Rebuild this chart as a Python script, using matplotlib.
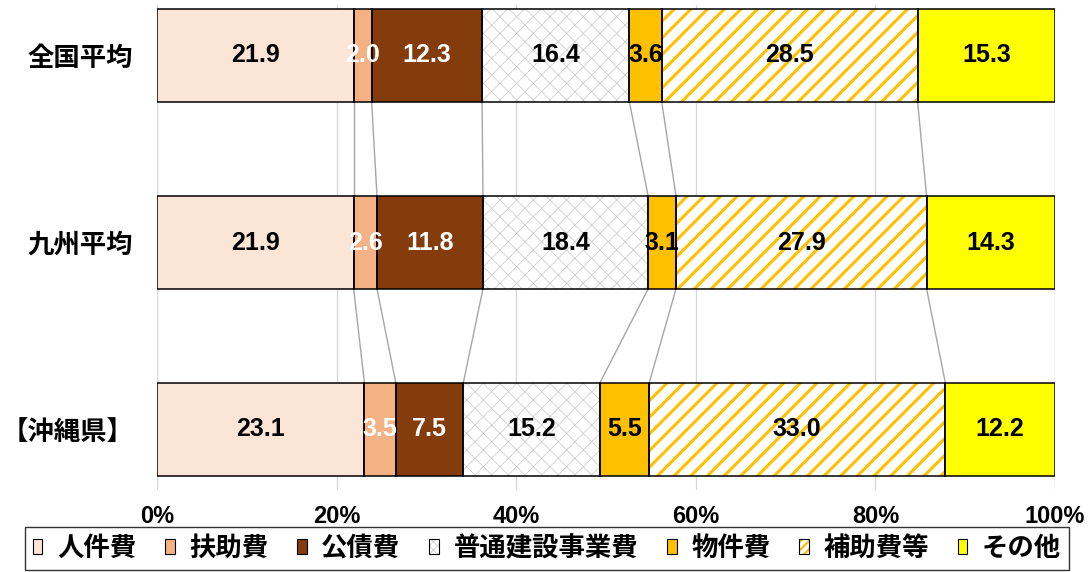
import matplotlib
matplotlib.use("Agg")
import matplotlib.pyplot as plt
from matplotlib.colors import to_rgba
from matplotlib.patches import Patch
import numpy as np

plt.rcParams["font.family"] = ["Noto Sans CJK JP", "DejaVu Sans"]

regions = ["全国平均", "九州平均", "【沖縄県】"]
items = ["人件費", "扶助費", "公債費", "普通建設事業費", "物件費", "補助費等", "その他"]
jinkenhi = [21.9, 21.9, 23.1]
fujohi = [2.0, 2.6, 3.5]
kousaihi = [12.3, 11.8, 7.5]
kensetsu = [16.4, 18.4, 15.2]
bukkenhi = [3.6, 3.1, 5.5]
hojohi = [28.5, 27.9, 33.0]
sonota = [15.3, 14.3, 12.2]
series = [jinkenhi, fujohi, kousaihi, kensetsu, bukkenhi, hojohi, sonota]
tick_labels = ["0%", "20%", "40%", "60%", "80%", "100%"]

# face, hatch, hatch colour, label colour
styles = [
    ("#FBE5D6", None, None, "black"),
    ("#F4B183", None, None, "white"),
    ("#843C0C", None, None, "white"),
    ("white", "xx", "#CFCFCF", "black"),
    ("#FFC000", None, None, "black"),
    ("white", "//", "#FFC000", "black"),
    ("#FFFF00", None, None, "black"),
]
hatch_lw = {"xx": 0.6, "//": 2.2}

fig = plt.figure(figsize=(10.88, 5.72), dpi=100)
W, H = 1088, 572
ax = fig.add_axes([157 / W, 1 - 490 / H, (1055 - 157) / W, (490 - 5) / H])

y = np.arange(len(regions))
height = 0.495
data = np.array(series) / 100.0
left = np.zeros(len(regions))
bounds = []
for vals, (face, hatch, hcol, tcol) in zip(data, styles):
    if hatch:
        bars = ax.barh(y, vals, left=left, height=height, color=face,
                       hatch=hatch, edgecolor=hcol, linewidth=0, zorder=2)
        for b in bars:
            if hasattr(b, "set_hatch_linewidth"):
                b.set_hatch_linewidth(hatch_lw[hatch])
    else:
        ax.barh(y, vals, left=left, height=height, color=face,
                linewidth=0, zorder=2)
    ax.barh(y, vals, left=left, height=height, fill=False,
            edgecolor="black", linewidth=1.1, zorder=3)
    for yi, v, l in zip(y, vals, left):
        ax.text(l + v / 2, yi, f"{v * 100:.1f}", ha="center", va="center",
                fontsize=18, fontweight="bold", color=tcol,
                family=["Liberation Sans", "DejaVu Sans"], zorder=4)
    left = left + vals
    bounds.append(left.copy())

# series lines between stacked bars
for b in bounds[:-1]:
    for i in range(len(regions) - 1):
        ax.plot([b[i], b[i + 1]], [y[i] + height / 2, y[i + 1] - height / 2],
                color="#A6A6A6", linewidth=1.0, zorder=1)

ax.set_xlim(0, 1)
ax.set_ylim(2 + (490 - 429.5) / 187, -(55.5 - 5) / 187)
ax.set_xticks(np.linspace(0, 1, 6))
ax.set_xticklabels(tick_labels, fontsize=17, fontweight="bold",
                   family=["Liberation Sans", "DejaVu Sans"])
ax.set_yticks(y)
ax.set_yticklabels(regions, fontsize=19, fontweight="bold")
ax.tick_params(axis="both", length=0)
ax.tick_params(axis="x", pad=11)
ax.tick_params(axis="y", pad=17)
ax.grid(axis="x", color="#D9D9D9", linewidth=1.0, zorder=0)
ax.set_axisbelow(True)
for s in ax.spines.values():
    s.set_visible(False)

handles = [Patch(facecolor=face, edgecolor="black", linewidth=0.8, label=name)
           for name, (face, hatch, hcol, tcol) in zip(items, styles)]
leg = fig.legend(handles=handles, loc="upper center", ncol=7,
                 bbox_to_anchor=(547 / W, 1 - 527 / H), frameon=True,
                 fancybox=False, edgecolor="black", handlelength=0.36,
                 handleheight=0.5, handletextpad=0.55, columnspacing=1.1,
                 borderpad=0.3, borderaxespad=0,
                 prop={"size": 19, "weight": "bold"})
leg.get_frame().set_linewidth(1.0)
# hatched legend markers: denser pattern so it shows in the small box
for h, (face, hatch, hcol, tcol) in zip(leg.legend_handles, styles):
    if hatch:
        h.set_hatch("////" if hatch == "//" else "xxxx")
        h._hatch_color = to_rgba(hcol)
        if hasattr(h, "set_hatch_linewidth"):
            h.set_hatch_linewidth(1.6 if hatch == "//" else 0.5)

fig.savefig("out.png", dpi=100)
